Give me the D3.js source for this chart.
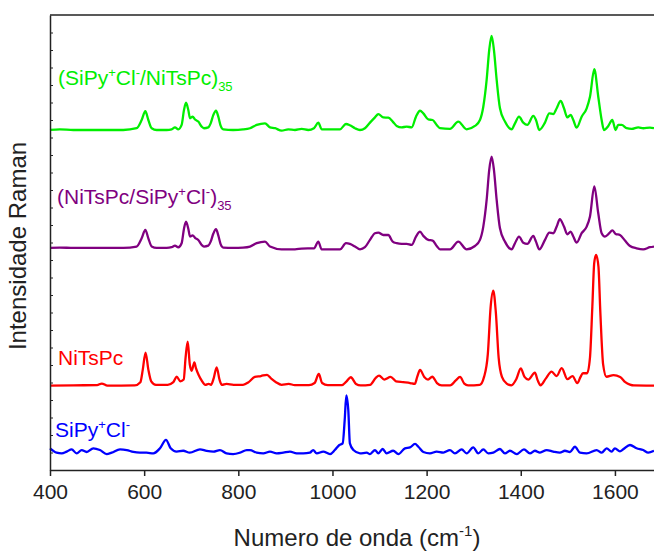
<!DOCTYPE html>
<html>
<head>
<meta charset="utf-8">
<script src="https://cdn.jsdelivr.net/npm/d3@7"></script>
<style>
  body { margin: 0; background: #fff; }
  text { font-family: "Liberation Sans", Arial, sans-serif; }
</style>
</head>
<body>
<div id="chart"></div>
<script>
// Raman spectra, [wavenumber (cm-1), intensity above the spectrum's own baseline]
const siPyCl = [
  [400, 0.25], [414, 0], [424.8, -0.04], [435.4, 0.06], [446, 0.19], [456.6, -0.04], [467.3, 0.15],
  [477.9, 0.04], [492, 0.25], [506, 0.15], [520.4, -0.08], [531, 0], [548.7, 0.19], [563, 0.15],
  [577, 0.04], [591, 0], [605, 0], [619.5, -0.04], [633.6, 0.25], [646.4, 0.73], [656.3, 0.25],
  [669, 0.06], [683, 0.11], [697, 0], [718.6, 0.19], [732.8, 0.1], [747, 0.06], [761, 0.15],
  [775, -0.04], [789, -0.08], [803.6, 0], [817.8, 0.15], [824.8, 0.15], [839, 0], [853, -0.04],
  [867.3, 0.06], [881.5, -0.04], [895.6, 0], [909.8, 0.06], [924, -0.04], [938, -0.04], [952, 0],
  [959, 0.15], [966.5, -0.04], [980.5, 0.06], [994.7, -0.08], [1005, 0.15], [1014.6, 0.44],
  [1021.7, 0.53], [1026, 1.87], [1029.4, 3.28], [1033.7, 2.4], [1037, 0.53], [1044.5, 0.15],
  [1058.5, -0.04], [1072.7, 0], [1079.7, -0.08], [1090.3, 0.15], [1097.4, -0.04], [1106.6, 0.21],
  [1115, -0.04], [1129, 0.11], [1140, -0.08], [1154, 0.25], [1164.7, 0.3], [1175.4, 0.5],
  [1182.5, 0.34], [1193, 0.04], [1207, -0.04], [1221.4, 0.06], [1235.5, 0], [1249.6, 0.15],
  [1260.2, -0.04], [1274.5, 0.19], [1285, -0.04], [1299, 0.3], [1309.7, -0.04], [1320.4, 0.19],
  [1331, -0.04], [1341.6, 0], [1355.8, 0.21], [1366.4, -0.04], [1377, 0.11], [1391.3, -0.08],
  [1406.8, 0.19], [1419.5, -0.04], [1430, 0.11], [1440.8, 0], [1455, 0.15], [1469, 0.06],
  [1483, 0], [1493.9, 0.11], [1504.5, 0.04], [1515, 0.34], [1525.8, 0], [1540, -0.04],
  [1561.2, 0.15], [1571.8, 0], [1582.4, 0.25], [1593, 0.06], [1600, 0.25], [1610.7, 0.08],
  [1617.7, 0.19], [1632, 0.44], [1646, 0.25], [1660, 0.15], [1670.8, 0], [1683, 0.11]
];

const niTsPc = [
  [400, 0], [450, 0.02], [500, 0.03], [510, 0.12], [522, 0], [580, 0.02], [592, 0.2], [597, 0.9],
  [603, 1.89], [609, 0.9], [615, 0.25], [625, 0.05], [650, 0.05], [662, 0.2], [669, 0.51],
  [677, 0.25], [684, 0.35], [688, 1.6], [692.5, 2.51], [697, 1.2], [701, 0.85], [706.6, 1.33],
  [710, 1.0], [716, 0.6], [722, 0.3], [730, 0.05], [737, 0.1], [742, 0.05], [748, 0.45],
  [754, 1.05], [760, 0.35], [765, 0.04], [775, 0.1], [790, 0.05], [810, 0.05], [822, 0.2],
  [835, 0.5], [848, 0.55], [861, 0.62], [870, 0.4], [880, 0.2], [892, 0.05], [907, 0.1],
  [920, 0.03], [950, 0.03], [962, 0.15], [971, 0.67], [978, 0.15], [990, 0.03], [1020, 0.03],
  [1030, 0.25], [1039, 0.48], [1050, 0.1], [1060, 0.02], [1080, 0.05], [1092, 0.45],
  [1099, 0.57], [1110, 0.35], [1123.6, 0.5], [1135, 0.25], [1150, 0.2], [1165, 0.15],
  [1175, 0.1], [1180, 0.5], [1186, 0.9], [1195, 0.5], [1203, 0.35], [1212, 0.51], [1222, 0.15],
  [1232, 0.02], [1250, 0.02], [1262, 0.3], [1271, 0.5], [1280, 0.12], [1288, 0.02], [1313, 0.05],
  [1322, 0.5], [1330, 1.8], [1336, 4.5], [1341.6, 5.43], [1347, 4.2], [1353, 1.6], [1360, 0.5],
  [1370, 0.12], [1380, 0.02], [1391, 0.4], [1400, 0.99], [1408, 0.5], [1416, 0.35], [1430, 0.74],
  [1436, 0.3], [1442, 0.02], [1453, 0.4], [1465.5, 0.8], [1476, 0.55], [1487, 1.0], [1499, 0.37],
  [1510, 0.55], [1520, 0.14], [1527, 0.5], [1532, 0.71], [1541, 0.71], [1547, 1.6], [1552, 4.5],
  [1556, 7.0], [1560, 7.47], [1565, 6.8], [1569, 4.2], [1575, 1.2], [1582, 0.51], [1597, 0.6],
  [1611, 0.5], [1622, 0.2], [1632, 0.06], [1640, 0.01], [1683, 0]
];

// (NiTsPc/SiPy+Cl-)35
const filmA = [
  [400, 0], [421, 0.02], [450, 0], [485, 0], [520, 0], [556, 0], [584, 0.08], [594.7, 0.55],
  [602.5, 1.03], [608.9, 0.55], [616, 0.08], [626.6, 0], [647.8, 0], [658.4, 0.04], [665.5, 0.13],
  [672.6, 0.04], [679.6, 0.27], [684.6, 1.1], [688.9, 1.5], [693.8, 1.1], [697.4, 0.65],
  [703, 0.72], [708, 0.58], [715, 0.45], [722.2, 0.17], [727, 0.08], [736.3, 0.13], [741.3, 0.36],
  [747, 0.82], [752.6, 1.07], [757.5, 0.72], [762.6, 0.2], [768, 0.02], [789, 0], [810, 0.02],
  [824.8, 0.08], [839, 0.27], [856.7, 0.36], [867.3, 0.08], [892, -0.08], [920.4, -0.08],
  [934.6, -0.04], [960.7, -0.02], [970, 0.36], [977, -0.08], [1016, -0.08], [1028.7, 0.27],
  [1037, 0.23], [1047.8, 0.08], [1058.5, -0.08], [1069, 0.04], [1079.7, 0.46], [1090.3, 0.84],
  [1097.4, 0.88], [1108, 0.74], [1118.6, 0.74], [1128, 0.36], [1136.4, 0.27], [1147, 0.23],
  [1157.6, 0.23], [1168.3, 0.17], [1177.4, 0.65], [1186, 0.93], [1193, 0.69], [1203.6, 0.46],
  [1212.8, 0.42], [1221.4, 0.11], [1228.4, -0.08], [1249.6, -0.08], [1267.3, 0.36], [1285, -0.08],
  [1302.7, 0.11], [1313.3, 0.46], [1320.4, 1.22], [1327.5, 2.74], [1333, 4.46], [1338, 5.22],
  [1343, 4.46], [1348.8, 2.74], [1355.8, 1.12], [1366.4, 0.36], [1380.6, -0.08], [1387.7, 0.27],
  [1396.2, 0.65], [1405.3, 0.3], [1413.9, 0.23], [1426.6, 0.69], [1432.3, 0.36], [1439.4, -0.08],
  [1451.4, 0.46], [1460.6, 0.88], [1469, 0.84], [1476.3, 1.22], [1483, 1.64], [1491.8, 1.22],
  [1498.8, 0.78], [1506, 0.93], [1511.6, 0.65], [1518.7, 0.3], [1529.3, 0.84], [1540, 1.22],
  [1547, 1.8], [1556.2, 3.52], [1564.6, 1.98], [1571.8, 0.84], [1578.8, 0.65], [1588, 0.84],
  [1594.4, 1.0], [1601.5, 0.8], [1610.7, 0.74], [1621.3, 0.42], [1632, 0.11], [1646, -0.02],
  [1660, -0.08], [1674.4, 0.04], [1683, 0.08]
];

// (SiPy+Cl-/NiTsPc)35
const filmB = [
  [400, 0], [421, 0.04], [449.6, 0], [485, 0], [520, 0], [555.7, 0], [584, 0.1], [594.7, 0.57],
  [602.5, 1.07], [608.9, 0.57], [616, 0.1], [626.6, 0], [647.8, 0], [658.4, 0.04], [665.5, 0.15],
  [672.6, 0.04], [679.6, 0.29], [684.6, 1.14], [688.9, 1.56], [693.8, 1.14], [697.4, 0.67],
  [703, 0.76], [708, 0.6], [715, 0.48], [722.2, 0.19], [727, 0.1], [736.3, 0.15], [741.3, 0.38],
  [747, 0.86], [752.6, 1.1], [757.5, 0.76], [762.6, 0.23], [768, 0.04], [789, 0], [810, 0.03],
  [824.8, 0.1], [839, 0.29], [856.7, 0.38], [867.3, 0.15], [878, 0.1], [892, -0.04], [906, 0.04],
  [920.4, 0], [934.6, 0.06], [948.6, 0], [960.7, 0.1], [970, 0.42], [977, 0.04], [991, 0.04],
  [1016, 0.04], [1028.7, 0.34], [1037, 0.27], [1047.8, 0.1], [1058.5, 0], [1069, 0.1],
  [1079.7, 0.42], [1090.3, 0.72], [1097.4, 0.91], [1108, 0.72], [1118.6, 0.7], [1128, 0.48],
  [1136.4, 0.23], [1147, 0.15], [1157.6, 0.19], [1168.3, 0.15], [1177.4, 0.76], [1186, 1.1],
  [1193, 0.95], [1203.6, 0.6], [1212.8, 0.57], [1221.4, 0.29], [1228.4, 0.1], [1249.6, 0.06],
  [1267.3, 0.48], [1285, 0.04], [1302.7, 0.23], [1313.3, 0.57], [1320.4, 1.33], [1327.5, 2.86],
  [1333, 4.57], [1338, 5.37], [1343, 4.57], [1348.8, 2.86], [1355.8, 1.24], [1366.4, 0.48],
  [1380.6, 0.04], [1387.7, 0.38], [1396.2, 0.76], [1405.3, 0.42], [1413.9, 0.29], [1426.6, 0.8],
  [1432.3, 0.57], [1439.4, 0], [1451.4, 0.42], [1460.6, 0.95], [1469, 0.91], [1476.3, 1.24],
  [1484.7, 1.66], [1491.8, 1.24], [1498.8, 0.72], [1506, 0.86], [1511.6, 0.57], [1518.7, 0.13],
  [1529.3, 0.76], [1540, 1.24], [1547, 1.9], [1556.2, 3.47], [1564.6, 1.9], [1571.8, 0.57],
  [1576.7, 0], [1585.9, 0.23], [1594.4, 0.57], [1601.5, 0], [1607, 0.29], [1614.3, 0.29],
  [1624.9, 0.1], [1635.5, 0.06], [1649.6, 0.15], [1660.2, 0.1], [1674.4, 0.13], [1683, 0.1]
];

// vertical stacking offsets (intensity units)
const spectra = [siPyCl, niTsPc, filmA, filmB];
const offsets = [0.99, 4.82, 12.69, 19.43];
const colors = ["#0000ff", "#ff0000", "#800080", "#00ee00"];
const xTicks = [400, 600, 800, 1000, 1200, 1400, 1600];

const width = 654, height = 551;
const margin = { top: 15, right: 0, bottom: 81, left: 50 };

const svg = d3.select("#chart").append("svg")
  .attr("width", width)
  .attr("height", height);

const x = d3.scaleLinear().domain([400, 1683]).range([margin.left, width - margin.right]);
const y = d3.scaleLinear().domain([0, 26]).range([height - margin.bottom, margin.top]);

// spectra
const line = d3.line()
  .x(d => x(d[0]))
  .y(d => y(d[1]))
  .curve(d3.curveMonotoneX);

spectra.forEach((s, i) => {
  svg.append("path")
    .datum(s.map(d => [d[0], d[1] + offsets[i]]))
    .attr("fill", "none")
    .attr("stroke", colors[i])
    .attr("stroke-width", 2.3)
    .attr("stroke-linejoin", "round")
    .attr("d", line);
});

// frame
svg.append("line")
  .attr("x1", margin.left).attr("x2", width)
  .attr("y1", margin.top).attr("y2", margin.top)
  .attr("stroke", "#222").attr("stroke-width", 1.5);

const xAxis = svg.append("g")
  .attr("transform", `translate(0,${height - margin.bottom})`)
  .call(d3.axisBottom(x).tickValues(xTicks).tickFormat(d3.format("d"))
    .tickSize(6).tickSizeOuter(0).tickPadding(8));
xAxis.select(".domain").attr("stroke", "#222").attr("stroke-width", 1.5);
xAxis.selectAll(".tick line").attr("stroke", "#222").attr("stroke-width", 1.5);
xAxis.selectAll(".tick text").attr("font-size", 21).attr("fill", "#222")
  .style("font-family", "'Liberation Sans', Arial, sans-serif");

const yAxis = svg.append("g")
  .attr("transform", `translate(${margin.left},0)`)
  .call(d3.axisLeft(y).tickValues(d3.range(1, 26)).tickSize(-3).tickSizeOuter(0).tickFormat(""));
yAxis.select(".domain").attr("stroke", "#222").attr("stroke-width", 1.5);
yAxis.selectAll(".tick line").attr("stroke", "#222").attr("stroke-width", 1);

// axis titles
const xt = svg.append("text")
  .attr("x", 357).attr("y", 546)
  .attr("text-anchor", "middle")
  .attr("font-size", 24).attr("fill", "#222");
xt.append("tspan").text("Numero de onda (cm");
xt.append("tspan").attr("dy", -10).attr("font-size", 15).text("-1");
xt.append("tspan").attr("dy", 10).text(")");

svg.append("text")
  .attr("transform", "translate(26,246) rotate(-90)")
  .attr("text-anchor", "middle")
  .attr("font-size", 24).attr("fill", "#222")
  .text("Intensidade Raman");

// series labels
function label(px, py, color, parts) {
  const t = svg.append("text").attr("x", px).attr("y", py)
    .attr("font-size", 21).attr("fill", color);
  let shift = 0;
  parts.forEach(p => {
    const target = p.sup ? -8 : p.sub ? 6 : 0;
    t.append("tspan")
      .attr("dy", target - shift)
      .attr("font-size", p.sup || p.sub ? 13 : 21)
      .text(p.t);
    shift = target;
  });
}

label(58, 85, colors[3], [
  { t: "(SiPy" }, { t: "+", sup: true }, { t: "Cl" }, { t: "-", sup: true },
  { t: "/NiTsPc)" }, { t: "35", sub: true }
]);
label(57, 204, colors[2], [
  { t: "(NiTsPc/SiPy" }, { t: "+", sup: true }, { t: "Cl" }, { t: "-", sup: true },
  { t: ")" }, { t: "35", sub: true }
]);
label(58, 365, colors[1], [{ t: "NiTsPc" }]);
label(55, 437, colors[0], [
  { t: "SiPy" }, { t: "+", sup: true }, { t: "Cl" }, { t: "-", sup: true }
]);
</script>
</body>
</html>
